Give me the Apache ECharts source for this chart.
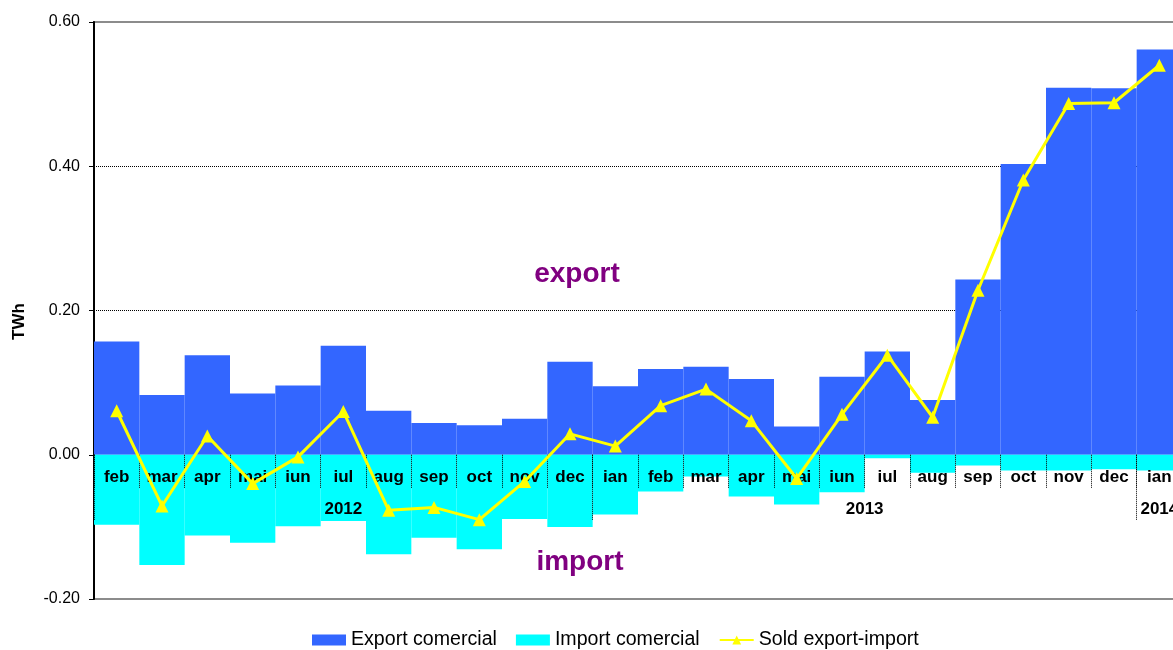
<!DOCTYPE html>
<html>
<head>
<meta charset="UTF-8">
<title>Export / import comercial</title>
<style>
  html, body { margin: 0; padding: 0; background: #fff; }
  #chart { width: 1173px; height: 650px; }
</style>
</head>
<body>
<div id="chart"></div>
<script src="https://cdn.jsdelivr.net/npm/echarts@6/dist/echarts.min.js"></script>
<script>
// luni feb 2012 - ian 2014
var months = ['feb','mar','apr','mai','iun','iul','aug','sep','oct','nov','dec',
              'ian','feb','mar','apr','mai','iun','iul','aug','sep','oct','nov','dec',
              'ian'];
// ani si cate luni are fiecare in grafic
var years = ['2012', '2013', '2014'];
var yearSpans = [11, 12, 1];

// TWh
var exportCom = [0.157, 0.083, 0.138, 0.085, 0.096, 0.151, 0.061, 0.044, 0.041, 0.050, 0.129,
                 0.095, 0.119, 0.122, 0.105, 0.039, 0.108, 0.143, 0.076, 0.243, 0.403, 0.509, 0.508,
                 0.562];
var importCom = [-0.097, -0.153, -0.112, -0.122, -0.099, -0.092, -0.138, -0.115, -0.131, -0.089, -0.100,
                 -0.083, -0.051, -0.030, -0.058, -0.069, -0.052, -0.005, -0.025, -0.015, -0.022, -0.022, -0.020,
                 -0.022];
var sold = [0.061, -0.071, 0.026, -0.040, -0.003, 0.060, -0.077, -0.073, -0.090, -0.037, 0.029,
            0.012, 0.068, 0.091, 0.047, -0.033, 0.056, 0.138, 0.052, 0.228, 0.381, 0.487, 0.488,
            0.540];

var yTicks = { min: -0.2, max: 0.6, step: 0.2 };

// pozitiile etichetelor de an si ale separatoarelor
var yearCenters = [], yearBounds = [0], acc = 0;
yearSpans.forEach(function (n) {
  yearCenters.push(acc + n / 2);
  acc += n;
  yearBounds.push(acc);
});

var gridTop = 22, gridH = 577;
// axa x sta pe linia de zero
var zeroOffset = -gridH * (0 - yTicks.min) / (yTicks.max - yTicks.min);

var font = 'Liberation Sans, Arial';
var chart = echarts.init(document.getElementById('chart'));

var option = {
  animation: false,
  grid: {
    left: 94, top: gridTop, width: 1088, height: gridH,
    outerBoundsMode: 'none', containLabel: false,
    show: true, borderColor: '#8c8c8c', borderWidth: 2, backgroundColor: 'transparent'
  },
  legend: {
    left: 312, top: 630, padding: 0,
    itemWidth: 34, itemHeight: 11, itemGap: 19,
    textStyle: { fontFamily: font, fontSize: 19.6, color: '#000' },
    data: [
      { name: 'Export comercial', icon: 'rect' },
      { name: 'Import comercial', icon: 'rect' },
      { name: 'Sold export-import' }
    ]
  },
  xAxis: [{
    type: 'category',
    data: months,
    position: 'bottom',
    offset: zeroOffset,
    z: 3,
    axisLine: { show: false, onZero: false },
    axisTick: { show: true, interval: 0, length: 33, lineStyle: { color: '#000', type: 'dotted', width: 1 } },
    axisLabel: { interval: 0, margin: 14, color: '#000', fontFamily: font, fontWeight: 'bold', fontSize: 17 },
    splitLine: { show: false }
  }, {
    type: 'value',
    min: 0, max: months.length,
    position: 'bottom',
    offset: zeroOffset,
    z: 3,
    axisLine: { show: false, onZero: false },
    axisTick: { show: true, customValues: yearBounds, length: 65, lineStyle: { color: '#000', type: 'dotted', width: 1 } },
    axisLabel: {
      customValues: yearCenters, margin: 46, color: '#000',
      fontFamily: font, fontWeight: 'bold', fontSize: 17,
      formatter: function (v) {
        var i = yearCenters.indexOf(v);
        return i >= 0 ? years[i] : '';
      }
    },
    splitLine: { show: false }
  }],
  yAxis: {
    type: 'value',
    min: yTicks.min, max: yTicks.max, interval: yTicks.step,
    name: 'TWh',
    nameLocation: 'middle',
    nameGap: 66,
    nameTextStyle: { fontFamily: font, fontWeight: 'bold', fontSize: 17, color: '#000', padding: [0, 0, 0, -22] },
    axisLine: { show: true, onZero: false, lineStyle: { color: '#000', width: 2 } },
    axisTick: { show: true, length: 5, lineStyle: { color: '#000' } },
    axisLabel: {
      margin: 14, color: '#000', fontFamily: font, fontSize: 16,
      formatter: function (v) { return v.toFixed(2); }
    },
    splitLine: {
      show: true,
      lineStyle: { color: ['rgba(0,0,0,0)', '#000', '#000', '#000', 'rgba(0,0,0,0)'], type: 'dotted', width: 1 }
    }
  },
  graphic: [
    { type: 'text', x: 577, y: 274, style: { text: 'export', fill: '#800080', font: 'bold 28px "Liberation Sans", Arial', align: 'center', verticalAlign: 'middle' } },
    { type: 'text', x: 580, y: 562, style: { text: 'import', fill: '#800080', font: 'bold 28px "Liberation Sans", Arial', align: 'center', verticalAlign: 'middle' } }
  ],
  series: [{
    name: 'Export comercial',
    type: 'bar',
    stack: 'com',
    barCategoryGap: 0,
    z: 2,
    itemStyle: { color: '#3366ff' },
    data: exportCom
  }, {
    name: 'Import comercial',
    type: 'bar',
    stack: 'com',
    barCategoryGap: 0,
    z: 2,
    itemStyle: { color: '#00ffff' },
    data: importCom
  }, {
    name: 'Sold export-import',
    type: 'line',
    z: 5,
    symbol: 'triangle',
    symbolSize: 13,
    lineStyle: { color: '#ffff00', width: 3 },
    itemStyle: { color: '#ffff00' },
    data: sold
  }]
};

chart.setOption(option);
</script>
</body>
</html>
